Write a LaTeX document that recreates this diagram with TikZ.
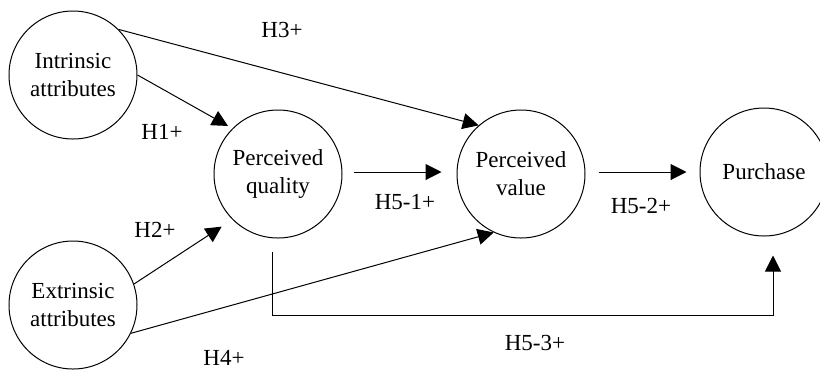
\documentclass[tikz,border=0pt]{standalone}
\usepackage{fontspec}
\setmainfont{Liberation Serif}
\usepackage{tikz}
\usetikzlibrary{positioning, arrows.meta}

\begin{document}
\begin{tikzpicture}[
        node distance=57pt,
        circ/.style={draw, circle, line width=0.5pt, minimum size=64pt, inner sep=0pt, align=center, font=\fontsize{11.5}{14}\selectfont},
        arr/.style={-{Triangle[length=8pt, width=8pt]}, line width=0.5pt},
        lab/.style={inner sep=0pt, font=\fontsize{11.5}{14}\selectfont}
    ]
    \useasboundingbox (0,0) rectangle (410pt,-186pt);

    % Attributes
    \node[circ] (intr) at (36.5pt,-37.5pt) {Intrinsic\\attributes};
    \node[circ] (extr) at (36.5pt,-152.5pt) {Extrinsic\\attributes};

    % Chain
    \node[circ] (pq) at (139pt,-87pt) {Perceived\\quality};
    \node[circ] (pv) [right=of pq] {Perceived\\value};
    \node[circ] (pur) [right=of pv, yshift=1pt] {Purchase};

    \draw[arr, shorten >=2.5pt] (intr.east) -- (pq.135);
    \draw[arr] (intr.45) -- (pv.131);
    \draw[arr, shorten >=6.4pt] (extr.19) -- (pq.225);
    \draw[arr] (extr.334) -- (pv.245);
    \draw[arr, shorten <=5.5pt, shorten >=7.5pt] ([yshift=1pt]pq.east) -- ([yshift=1pt]pv.west);
    \draw[arr, shorten <=6.5pt, shorten >=6.5pt] ([yshift=1pt]pv.east) -- (pur.west);

    \coordinate (h53s) at ([xshift=-3pt, yshift=-6.5pt]pq.south);
    \coordinate (h53e) at ([xshift=4.5pt, yshift=-9.5pt]pur.south);
    \draw[arr] (h53s) -- ++(0,-32pt) -| (h53e);

    % Labels
    \node[lab] (l3) at (141pt,-15pt) {H3+};
    \node[lab] (l1) at (81pt,-66pt) {H1+};
    \node[lab] (l2) at (77.5pt,-115pt) {H2+};
    \node[lab] (l4) at (112pt,-179pt) {H4+};
    \node[lab] (l51) at (202.5pt,-101pt) {H5-1+};
    \node[lab] (l52) at (320.5pt,-103pt) {H5-2+};
    \node[lab] (l53) at (267.5pt,-171.5pt) {H5-3+};
\end{tikzpicture}
\end{document}
